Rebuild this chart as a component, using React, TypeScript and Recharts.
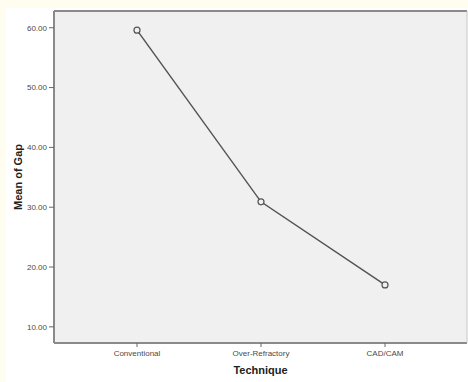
import React from 'react';
import { LineChart, Line, XAxis, YAxis, CartesianGrid } from 'recharts';

const techniques = ['Conventional', 'Over-Refractory', 'CAD/CAM'];
const meanGap = [59.6, 30.9, 17.0];
const yTicks = [10, 20, 30, 40, 50, 60];
const yDomain = [7.3, 62.8];

const data = techniques.map((t, i) => ({ technique: t, gap: meanGap[i] }));

const axisColor = '#8a8a8a';
const font = 'Liberation Sans, Arial, sans-serif';
const tickStyle = { fontSize: 8, fill: '#4a4a4a', fontFamily: font };

function YLabel(props: any) {
  const vb = props.viewBox || {};
  const cx = 18;
  const cy = vb.y + vb.height / 2;
  return (
    <text
      x={cx}
      y={cy}
      transform={`rotate(-90 ${cx} ${cy})`}
      textAnchor="middle"
      dominantBaseline="central"
      fontSize={11}
      fontWeight="bold"
      fill="#222"
      fontFamily={font}
    >
      Mean of Gap
    </text>
  );
}

export default function App() {
  return (
    <div style={{ position: 'absolute', left: 0, top: 0, width: 468, height: 382, background: '#ffffff' }}>
      <div style={{ position: 'absolute', left: 0, top: 0, width: 468, height: 8, background: '#fffdf0' }} />
      <div style={{ position: 'absolute', left: 0, top: 0, width: 6, height: 382, background: '#fffdf0' }} />
      <div style={{ position: 'absolute', left: 0, top: 0 }}>
        <LineChart width={468} height={382} data={data} margin={{ top: 10, right: 0, bottom: 0, left: 0 }}>
          <CartesianGrid fill="#f0f0f0" stroke="none" horizontal={false} vertical={false} />
          <XAxis
            dataKey="technique"
            padding={{ left: 83, right: 82 }}
            height={39}
            tickSize={4}
            tickMargin={3}
            tick={tickStyle}
            tickLine={{ stroke: '#666' }}
            axisLine={{ stroke: axisColor, strokeWidth: 2 }}
            interval={0}
            label={{
              value: 'Technique',
              position: 'insideBottom',
              offset: 8,
              fontSize: 11,
              fontWeight: 'bold',
              fill: '#222',
              fontFamily: font,
            }}
          />
          <XAxis
            xAxisId="top"
            orientation="top"
            dataKey="technique"
            height={1}
            tick={false}
            tickLine={false}
            axisLine={{ stroke: axisColor, strokeWidth: 2 }}
          />
          <YAxis
            type="number"
            domain={yDomain}
            ticks={yTicks}
            width={54}
            tickSize={5}
            tickMargin={2}
            tick={tickStyle}
            tickLine={{ stroke: '#666' }}
            axisLine={{ stroke: axisColor, strokeWidth: 2 }}
            tickFormatter={(v: number) => v.toFixed(2)}
            allowDataOverflow
            label={<YLabel />}
          />
          <YAxis
            yAxisId="right"
            orientation="right"
            type="number"
            domain={yDomain}
            allowDataOverflow
            width={1}
            tick={false}
            tickLine={false}
            axisLine={{ stroke: '#c8c8c8' }}
          />
          <Line
            xAxisId="top"
            yAxisId="right"
            type="linear"
            dataKey="gap"
            stroke="none"
            dot={false}
            activeDot={false}
            legendType="none"
            isAnimationActive={false}
          />
          <Line
            type="linear"
            dataKey="gap"
            stroke="#555"
            strokeWidth={1.5}
            dot={{ r: 3, stroke: '#555', strokeWidth: 1.2, fill: '#f0f0f0' }}
            isAnimationActive={false}
          />
        </LineChart>
      </div>
    </div>
  );
}
